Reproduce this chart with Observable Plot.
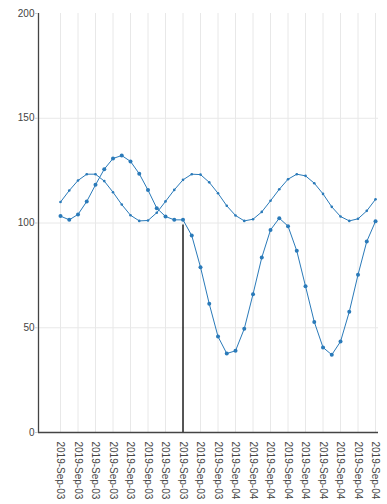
<!DOCTYPE html>
<html>
<head>
<meta charset="utf-8">
<script src="https://cdn.jsdelivr.net/npm/d3@7"></script>
<script src="https://cdn.jsdelivr.net/npm/@observablehq/plot@0.6"></script>
<style>
  html, body { margin: 0; padding: 0; background: #fff; }
</style>
</head>
<body>
<div id="chart"></div>
<script>
const seriesA = [110, 115.5, 120.3, 123.3, 123.3, 120, 114.7, 108.8, 103.7, 101, 101.2, 104.9, 110.3, 115.8, 120.6, 123.3, 123.1, 119.4, 114.2, 108.2, 103.6, 101, 101.8, 105.3, 110.6, 116.1, 120.9, 123.3, 122.5, 119, 113.9, 107.7, 103.1, 101, 102, 105.8, 111.3];
const seriesB = [103.3, 101.5, 104.1, 110.3, 118.2, 125.7, 130.8, 132.2, 129.4, 123.5, 115.7, 107.1, 103.1, 101.5, 101.5, 94, 78.9, 61.4, 45.8, 37.7, 39, 49.5, 66, 83.5, 96.7, 102.3, 98.5, 86.7, 69.8, 52.8, 40.6, 37.1, 43.4, 57.6, 75.3, 91.2, 100.8];
const tickLabels = ["2019-Sep-03","2019-Sep-03","2019-Sep-03","2019-Sep-03","2019-Sep-03","2019-Sep-03","2019-Sep-03","2019-Sep-03","2019-Sep-03","2019-Sep-03","2019-Sep-04","2019-Sep-04","2019-Sep-04","2019-Sep-04","2019-Sep-04","2019-Sep-04","2019-Sep-04","2019-Sep-04","2019-Sep-04"];
const yTicks = [0, 50, 100, 150, 200];
const markerIndex = 14;
const markerTop = 99;

const dataA = seriesA.map((v, i) => ({i, v}));
const dataB = seriesB.map((v, i) => ({i, v}));
const xTicks = tickLabels.map((_, k) => k * 2);
const xDomain = [-2.514, 36.34];
const blue = "#2a7ab9";

const chart = Plot.plot({
  width: 387,
  height: 504,
  marginTop: 13,
  marginBottom: 72,
  marginLeft: 38,
  marginRight: 9,
  style: { fontFamily: "'Liberation Sans', Arial, sans-serif", fontSize: "10px", color: "#444", background: "#fff" },
  x: { type: "linear", domain: xDomain },
  y: { domain: [0, 200] },
  marks: [
    Plot.gridX(xTicks, { stroke: "#e8e8e8", strokeOpacity: 1 }),
    Plot.gridY([50, 100, 150], { stroke: "#e8e8e8", strokeOpacity: 1 }),
    Plot.line(dataA, { x: "i", y: "v", stroke: blue, strokeWidth: 1 }),
    Plot.dot(dataA, { x: "i", y: "v", fill: blue, r: 1.3 }),
    Plot.line(dataB, { x: "i", y: "v", stroke: blue, strokeWidth: 1 }),
    Plot.dot(dataB, { x: "i", y: "v", fill: blue, r: 2 }),
    Plot.ruleX([markerIndex], { y1: 0, y2: markerTop, stroke: "#000", strokeWidth: 1.3 }),
    Plot.ruleY([0], { stroke: "#444", strokeWidth: 1.3 }),
    Plot.ruleX([xDomain[0]], { y1: 0, y2: 200, stroke: "#444", strokeWidth: 1.3 }),
    Plot.axisY(yTicks, { tickSize: 3, tickPadding: 1, label: null, fill: "#444", stroke: "#ccc" }),
    Plot.axisX(xTicks, { tickSize: 0, tickPadding: 9, tickRotate: 90, label: null, fill: "#444", tickFormat: (d) => tickLabels[d / 2] })
  ]
});
document.getElementById("chart").appendChild(chart);
</script>
</body>
</html>
